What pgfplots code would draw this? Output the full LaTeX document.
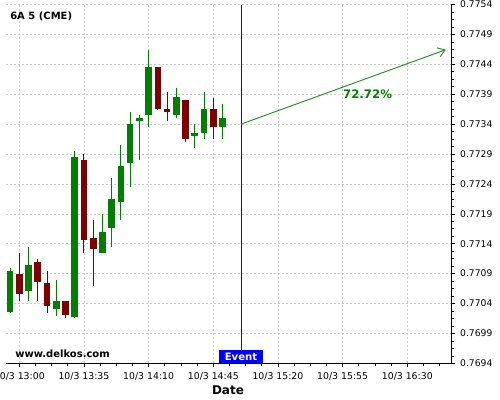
\documentclass[border=0pt]{standalone}
\usepackage{pgfplots}
\pgfplotsset{compat=1.18}
\usetikzlibrary{arrows.meta}
\usepackage{fontspec}
\setmainfont{DejaVu Sans}
\definecolor{cgreen}{RGB}{0,128,0}
\definecolor{cred}{RGB}{128,0,0}
\definecolor{arrowgreen}{RGB}{34,139,34}
\definecolor{evblue}{RGB}{0,0,255}
\definecolor{gridgray}{RGB}{200,200,200}
\begin{document}
\begin{tikzpicture}
\begin{axis}[
  scale only axis, width=334.1pt, height=269.1pt,
  at={(0,0)}, anchor=south west,
  xmin=-7.2, xmax=233.9, ymin=0.7694, ymax=0.7754,
  axis x line*=bottom, axis y line*=right,
  axis line style={black, line width=0.75pt},
  tick align=outside, major tick length=3pt, minor tick length=1.8pt,
  tick style={black, line width=0.5pt},
  /pgf/number format/assume math mode=true,
  xtick={0,35,70,105,140,175,210},
  xticklabels={10/3 13:00,10/3 13:35,10/3 14:10,10/3 14:45,10/3 15:20,10/3 15:55,10/3 16:30},
  minor xtick={8.75,17.5,26.25,43.75,52.5,61.25,78.75,87.5,96.25,113.75,122.5,131.25,148.75,157.5,166.25,183.75,192.5,201.25,218.75,227.5},
  ytick={0.7694,0.7699,0.7704,0.7709,0.7714,0.7719,0.7724,0.7729,0.7734,0.7739,0.7744,0.7749,0.7754},
  yticklabels={0.7694,0.7699,0.7704,0.7709,0.7714,0.7719,0.7724,0.7729,0.7734,0.7739,0.7744,0.7749,0.7754},
  minor y tick num=3,
  scaled y ticks=false,
  grid=major,
  major grid style={gridgray, dash pattern=on 1.5pt off 1.5pt, line width=0.5pt},
  xticklabel style={font=\fontsize{7}{8}\selectfont, yshift=-0.2pt},
  yticklabel style={font=\fontsize{6.9}{8}\selectfont},
  unbounded coords=jump,
]
% green wicks
\addplot[cgreen, line width=0.75pt, mark=none] coordinates {
 (-5,0.770238) (-5,0.770995) (-5,nan)
 (5,0.770445) (5,0.77135) (5,nan)
 (20,0.770195) (20,0.770795) (20,nan)
 (30,0.770155) (30,0.77295) (30,nan)
 (45,0.771238) (45,0.7719) (45,nan)
 (50,0.771345) (50,0.772495) (50,nan)
 (55,0.771795) (55,0.77305) (55,nan)
 (60,0.772345) (60,0.7736) (60,nan)
 (65,0.772795) (65,0.77355) (65,nan)
 (70,0.773345) (70,0.774645) (70,nan)
 (85,0.773495) (85,0.774) (85,nan)
 (95,0.772995) (95,0.7734) (95,nan)
 (100,0.773145) (100,0.773945) (100,nan)
 (110,0.773145) (110,0.773745)
};
% green bodies (open to close)
\addplot[cgreen, line width=5pt, line cap=butt, mark=none] coordinates {
 (-5,0.770255) (-5,0.77095) (-5,nan)
 (5,0.770605) (5,0.77105) (5,nan)
 (20,0.770305) (20,0.77045) (20,nan)
 (30,0.770172) (30,0.77285) (30,nan)
 (45,0.77125) (45,0.7716) (45,nan)
 (50,0.771655) (50,0.77215) (50,nan)
 (55,0.772105) (55,0.7727) (55,nan)
 (60,0.772755) (60,0.7734) (60,nan)
 (65,0.77345) (65,0.7735) (65,nan)
 (70,0.773555) (70,0.77435) (70,nan)
 (85,0.773555) (85,0.77385) (85,nan)
 (95,0.773205) (95,0.773255) (95,nan)
 (100,0.773255) (100,0.77365) (100,nan)
 (110,0.773355) (110,0.7735)
};
% red wicks
\addplot[cred, line width=0.75pt, mark=none] coordinates {
 (0,0.770445) (0,0.771245) (0,nan)
 (10,0.770445) (10,0.771145) (10,nan)
 (15,0.770245) (15,0.770945) (15,nan)
 (25,0.770162) (25,0.77045) (25,nan)
 (35,0.771245) (35,0.772895) (35,nan)
 (40,0.770695) (40,0.771795) (40,nan)
 (75,0.773638) (75,0.77435) (75,nan)
 (80,0.773445) (80,0.773945) (80,nan)
 (90,0.773095) (90,0.7738) (90,nan)
 (105,0.773145) (105,0.773845)
};
% red bodies (open to close)
\addplot[cred, line width=5pt, line cap=butt, mark=none] coordinates {
 (0,0.7709) (0,0.770555) (0,nan)
 (10,0.7711) (10,0.770755) (10,nan)
 (15,0.77075) (15,0.770355) (15,nan)
 (25,0.77045) (25,0.770205) (25,nan)
 (35,0.7728) (35,0.771455) (35,nan)
 (40,0.7715) (40,0.771305) (40,nan)
 (75,0.77435) (75,0.773655) (75,nan)
 (80,0.77365) (80,0.773605) (80,nan)
 (90,0.7738) (90,0.773155) (90,nan)
 (105,0.77365) (105,0.773355)
};
% event line
\addplot[evblue, line width=0.75pt, mark=none] coordinates {(120,0.7694) (120,0.7754)};
% forecast arrow
\addplot[arrowgreen, line width=0.7pt, mark=none, -{Straight Barb[length=5pt,width=7pt]}] coordinates {(120,0.7734) (230.8,0.774645)};
\node[text=cgreen, font=\bfseries\fontsize{8.8}{10}\selectfont] at (axis cs:188.5,0.7739) {72.72\%};
\node[fill=evblue, text=white, font=\bfseries\fontsize{7.6}{9}\selectfont, inner sep=0pt, minimum width=33pt, minimum height=10pt, anchor=south] at (axis cs:120,0.7694) {Event};
\end{axis}
\node[anchor=west, font=\bfseries\fontsize{7.5}{9}\selectfont, inner sep=0pt] at (3pt,260.5pt) {6A 5 (CME)};
\node[font=\bfseries\fontsize{7.5}{9}\selectfont, inner sep=0pt] at (42.4pt,7pt) {www.delkos.com};
\node[font=\bfseries\fontsize{9}{11}\selectfont, inner sep=0pt] at (166.5pt,-20pt) {Date};
\pgfresetboundingbox
\path[use as bounding box] (-4.5pt,-27.5pt) rectangle (370.5pt,272.5pt);
\end{tikzpicture}
\end{document}
